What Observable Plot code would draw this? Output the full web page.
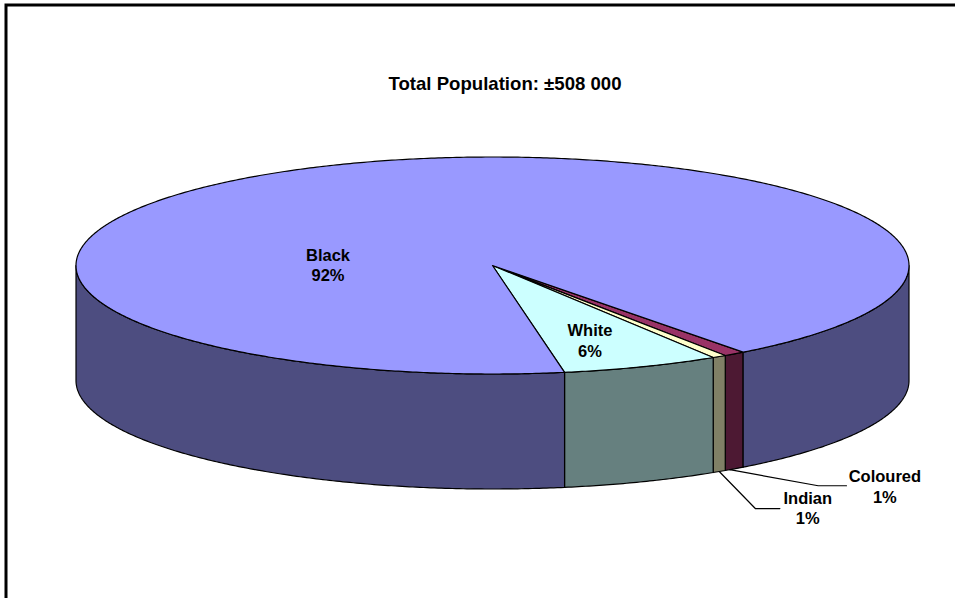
<!DOCTYPE html>
<html>
<head>
<meta charset="utf-8">
<script src="https://cdn.jsdelivr.net/npm/d3@7"></script>
<script src="https://cdn.jsdelivr.net/npm/@observablehq/plot@0.6"></script>
<style>
  html, body { margin: 0; padding: 0; background: #fff; overflow: hidden; }
  svg { display: block; }
</style>
</head>
<body>
<div id="chart"></div>
<script>
// Population groups, clockwise from the lower right of the disc
const groups = ["Coloured", "Indian", "White", "Black"];
const shares = [0.84, 0.55, 6.12, 92.49];
const topColors = ["#993366", "#FFFFCC", "#CCFFFF", "#9999FF"];
const wallColors = ["#4D1933", "#808066", "#66807F", "#4D4D80"];
const chartTitle = "Total Population: ±508 000";

// Disc layout, in units of the disc radius
const startAngle = 53;
const wallDepth = 1.06;
const labelSpots = {
  Black: [-0.395, -0.01],
  White: [0.234, 0.686],
  Indian: [0.757, 2.228],
  Coloured: [0.942, 2.03]
};
const leaderBends = {
  Indian: [[0.631, 2.24], [0.69, 2.24]],
  Coloured: [[0.782, 2.03], [0.85, 2.03]]
};
const leaderStart = { Indian: 0.5, Coloured: 0.75 };

const rim = (deg, drop = 0) => {
  const t = deg * Math.PI / 180;
  return { x: Math.cos(t), y: Math.sin(t) + drop };
};
const sweep = (from, to, drop = 0) => {
  const steps = Math.max(1, Math.ceil(Math.abs(to - from) / 0.5));
  return d3.range(steps + 1).map(i => rim(from + (to - from) * i / steps, drop));
};

// Angular extent of each slice
const totals = Array.from(d3.cumsum(shares));
const slices = groups.map((group, i) => ({
  group,
  share: shares[i],
  from: startAngle + (i ? totals[i - 1] : 0) * 3.6,
  to: startAngle + totals[i] * 3.6
}));

// Side wall pieces: only the front half of the rim faces the viewer
const walls = slices.flatMap(s =>
  [[0, 180], [360, 540]].flatMap(([lo, hi], k) => {
    const a = Math.max(s.from, lo), b = Math.min(s.to, hi);
    if (a >= b) return [];
    const outline = [...sweep(a, b), ...sweep(b, a, wallDepth)];
    return outline.map(p => ({ ...p, piece: `${s.group} wall ${k}`, key: `${s.group} wall` }));
  })
);

// Top faces, each a wedge from the centre of the disc
const tops = slices.flatMap(s =>
  [{ x: 0, y: 0 }, ...sweep(s.from, s.to)].map(p => ({ ...p, piece: `${s.group} top`, key: `${s.group} top` }))
);

// Leader lines for the two thin slices
const leaders = slices.filter(s => leaderBends[s.group]).flatMap(s => {
  const mid = s.from + (s.to - s.from) * leaderStart[s.group];
  const start = rim(mid, wallDepth);
  return [start, ...leaderBends[s.group].map(([x, y]) => ({ x, y }))].map(p => ({ ...p, group: s.group }));
});

const labels = slices.map(s => ({
  text: `${s.group}\n${Math.round(s.share)}%`,
  x: labelSpots[s.group][0],
  y: labelSpots[s.group][1]
}));

const font = { fontFamily: "'Liberation Sans', Arial, sans-serif", fontWeight: "bold", fill: "#000" };

const chart = Plot.plot({
  width: 955,
  height: 598,
  margin: 0,
  style: { background: "#fff" },
  x: { domain: [-1, 1], range: [75.5, 908.5], axis: null },
  y: { domain: [-1, 1], range: [156.5, 373.5], axis: null },
  color: {
    type: "ordinal",
    domain: [...groups.map(g => `${g} wall`), ...groups.map(g => `${g} top`)],
    range: [...wallColors, ...topColors]
  },
  marks: [
    Plot.frame({ stroke: "#000", strokeWidth: 3, insetLeft: 5.5, insetTop: 4.5, insetRight: -20, insetBottom: -20 }),
    Plot.line(walls, { x: "x", y: "y", z: "piece", fill: "key", stroke: "#000", strokeWidth: 1.2, curve: "linear-closed" }),
    Plot.line(tops, { x: "x", y: "y", z: "piece", fill: "key", stroke: "#000", strokeWidth: 1.2, curve: "linear-closed" }),
    Plot.line(leaders, { x: "x", y: "y", z: "group", stroke: "#000", strokeWidth: 1.2 }),
    Plot.text(labels, { x: "x", y: "y", text: "text", fontSize: 16.5, lineHeight: 1.25, ...font }),
    Plot.text([chartTitle], { x: [0.03], y: [-1.668], text: d => d, fontSize: 18.6, ...font })
  ]
});
document.getElementById("chart").appendChild(chart);
</script>
</body>
</html>
